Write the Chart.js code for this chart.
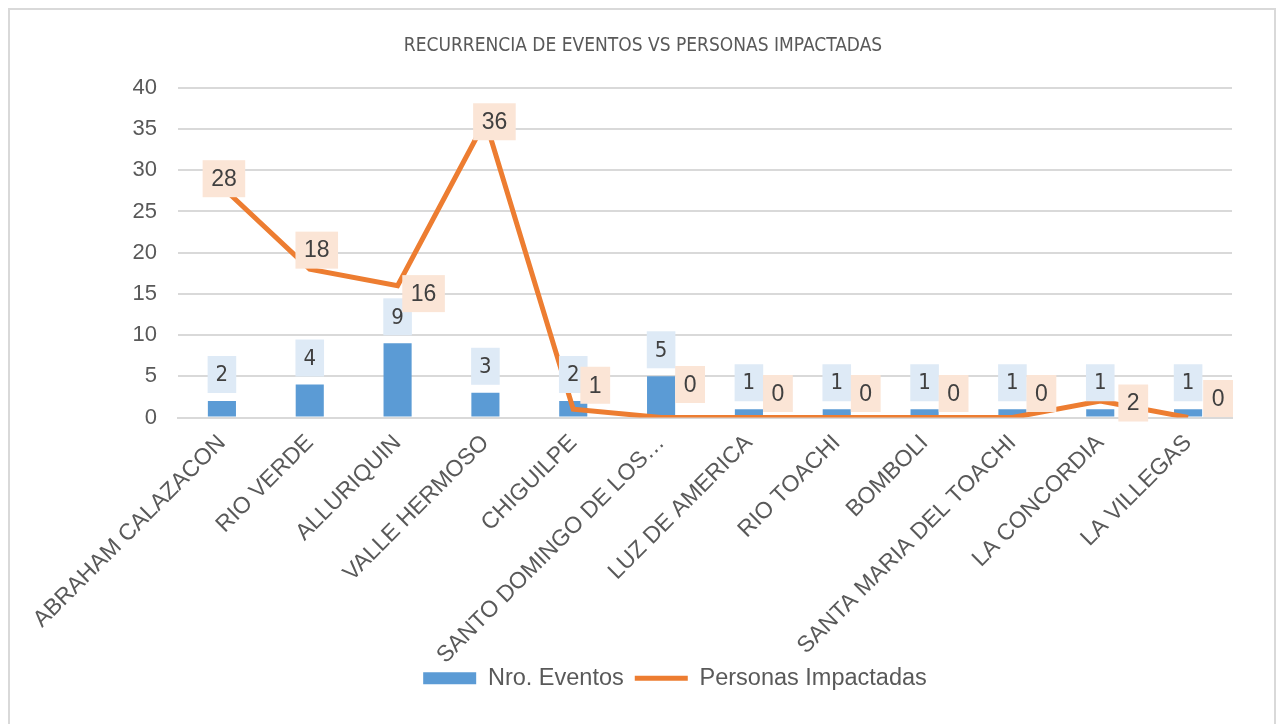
<!DOCTYPE html>
<html>
<head>
<meta charset="utf-8">
<script src="https://cdn.jsdelivr.net/npm/chart.js@4.4.1/dist/chart.umd.min.js"></script>
<style>
  body { margin: 0; background: #fff; overflow: hidden; }
  #wrap { position: relative; width: 1282px; height: 724px; }
  #frame { position: absolute; left: 8px; top: 8px; width: 1268px; height: 730px; border: 2px solid #d9d9d9; box-sizing: border-box; }
  canvas { position: absolute; left: 0; top: 0; }
</style>
</head>
<body>
<div id="wrap">
  <div id="frame"></div>
  <canvas id="grafico" width="1282" height="724"></canvas>
</div>
<script>
const parroquias = ['ABRAHAM CALAZACON', 'RIO VERDE', 'ALLURIQUIN', 'VALLE HERMOSO', 'CHIGUILPE',
  'SANTO DOMINGO DE LOS…', 'LUZ DE AMERICA', 'RIO TOACHI', 'BOMBOLI', 'SANTA MARIA DEL TOACHI',
  'LA CONCORDIA', 'LA VILLEGAS']
const nroEventos = [2, 4, 9, 3, 2, 5, 1, 1, 1, 1, 1, 1]
const personasImpactadas = [28, 18, 16, 36, 1, 0, 0, 0, 0, 0, 2, 0]

// desplazamiento de las etiquetas de la linea (como en el Excel)
const offsetLinea = [[2, -8], [7, -19], [26, 8], [9, 1], [22, -24], [29, -33],
  [29, -24], [29, -24], [29, -24], [29, -24], [33, 2], [30, -19]]

const azul = '#5B9BD5'
const naranja = '#ED7D31'
const gris = '#595959'

function caja(ctx, texto, cx, cy, fondo, font, padX) {
  ctx.font = font
  const w = ctx.measureText(texto).width + padX * 2
  const h = 37
  ctx.fillStyle = fondo
  ctx.fillRect(cx - w / 2, cy - h / 2, w, h)
  ctx.fillStyle = '#404040'
  ctx.textAlign = 'center'
  ctx.textBaseline = 'middle'
  ctx.fillText(texto, cx, cy + 1)
}

const etiquetas = {
  id: 'etiquetas',
  afterLayout(chart) {
    // centrar titulo y leyenda como en el original
    chart.titleBlock.left += 27
    chart.titleBlock.right += 27
    chart.legend.left += 59
    chart.legend.right += 59
    chart.legend.top -= 24
    chart.legend.bottom -= 24
  },
  afterDatasetsDraw(chart) {
    const ctx = chart.ctx
    ctx.save()
    const barras = chart.getDatasetMeta(0).data
    barras.forEach((b, i) => {
      caja(ctx, String(nroEventos[i]), b.x, b.y - 8 - 18.5, '#DEEAF6', '22px "DejaVu Sans Condensed", "Liberation Sans Narrow", sans-serif', 8)
    })
    const puntos = chart.getDatasetMeta(1).data
    puntos.forEach((p, i) => {
      const o = offsetLinea[i]
      caja(ctx, String(personasImpactadas[i]), p.x + o[0], p.y + o[1], '#FBE5D6', '23px "Liberation Sans", Arial, sans-serif', 8.5)
    })
    ctx.restore()
  }
}

new Chart(document.getElementById('grafico').getContext('2d'), {
  data: {
    labels: parroquias,
    datasets: [{
      type: 'bar',
      label: 'Nro. Eventos',
      data: nroEventos,
      backgroundColor: azul,
      barPercentage: 0.32,
      categoryPercentage: 1,
      order: 1
    }, {
      type: 'line',
      label: 'Personas Impactadas',
      data: personasImpactadas,
      borderColor: naranja,
      borderWidth: 5,
      pointRadius: 0,
      tension: 0,
      order: 0
    }]
  },
  options: {
    responsive: false,
    animation: false,
    layout: { padding: { left: 0, right: 50, top: 0, bottom: 0 } },
    plugins: {
      title: {
        display: true,
        text: 'RECURRENCIA DE EVENTOS VS PERSONAS IMPACTADAS',
        color: gris,
        font: { family: '"Liberation Sans Narrow", "DejaVu Sans Condensed", sans-serif', size: 19, weight: 'normal' },
        padding: { top: 35, bottom: 30 }
      },
      legend: {
        position: 'bottom',
        labels: {
          color: gris,
          font: { family: '"Liberation Sans", Arial, sans-serif', size: 23.5 },
          usePointStyle: true,
          pointStyleWidth: 53,
          boxHeight: 12,
          padding: 11,
          generateLabels: (chart) => [
            { text: 'Nro. Eventos', fillStyle: azul, strokeStyle: azul, lineWidth: 0, pointStyle: 'rect', datasetIndex: 0, fontColor: gris },
            { text: 'Personas Impactadas', fillStyle: naranja, strokeStyle: naranja, lineWidth: 5, pointStyle: 'line', datasetIndex: 1, fontColor: gris }
          ]
        }
      },
      tooltip: { enabled: false }
    },
    scales: {
      x: {
        grid: { display: false, drawTicks: false },
        border: { color: '#d9d9d9', width: 2 },
        ticks: {
          color: gris,
          font: { family: '"Liberation Sans", Arial, sans-serif', size: 23 },
          minRotation: 45,
          maxRotation: 45,
          autoSkip: false,
          padding: 12
        },
        afterFit: (s) => { s.height = 262 }
      },
      y: {
        min: 0,
        max: 40,
        grid: { color: '#d9d9d9', lineWidth: 2, drawTicks: false },
        border: { display: false },
        ticks: {
          stepSize: 5,
          color: gris,
          font: { family: '"Liberation Sans", Arial, sans-serif', size: 22 },
          padding: 21
        },
        afterFit: (s) => { s.width = 178 }
      }
    }
  },
  plugins: [etiquetas]
})
</script>
</body>
</html>
